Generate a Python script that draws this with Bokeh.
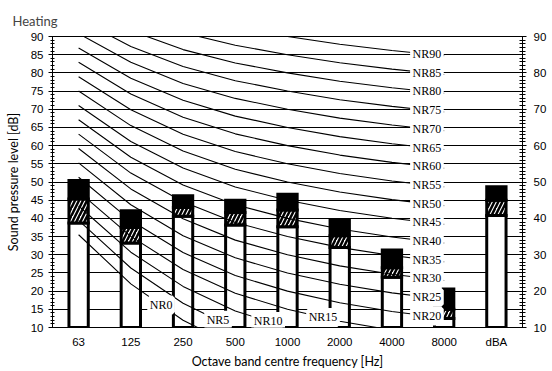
from bokeh.plotting import figure
from bokeh.models import (Range1d, LinearAxis, SingleIntervalTicker, FixedTicker,
                          ColumnDataSource, LabelSet)
from bokeh.embed import file_html
from bokeh.resources import INLINE

# ---- data ----
categories = ["63", "125", "250", "500", "1000", "2000", "4000", "8000", "dBA"]
white_top = [38.7, 33.2, 40.6, 38.2, 37.7, 32.0, 23.8, 12.5, 40.8]
hatch_top = [45.3, 37.5, 43.0, 41.6, 42.3, 35.2, 26.4, 15.0, 45.0]
bar_top = [50.4, 42.1, 46.2, 45.0, 46.6, 39.5, 31.3, 20.6, 48.7]

nr_names = ["NR0", "NR5", "NR10", "NR15", "NR20", "NR25", "NR30", "NR35", "NR40",
            "NR45", "NR50", "NR55", "NR60", "NR65", "NR70", "NR75", "NR80", "NR85", "NR90"]
# NR curve levels at 63 ... 8000 Hz
nr_curves = [
    [35.5, 22.0, 12.0, 4.8, 0.0, -3.5, -6.1, -8.0],
    [39.45, 26.35, 16.65, 9.67, 5.0, 1.58, -0.98, -2.85],
    [43.4, 30.7, 21.3, 14.54, 10.0, 6.65, 4.15, 2.3],
    [47.35, 35.05, 25.95, 19.41, 15.0, 11.73, 9.28, 7.45],
    [51.3, 39.4, 30.6, 24.28, 20.0, 16.8, 14.4, 12.6],
    [55.25, 43.75, 35.25, 29.15, 25.0, 21.88, 19.53, 17.75],
    [59.2, 48.1, 39.9, 34.02, 30.0, 26.95, 24.65, 22.9],
    [63.15, 52.45, 44.55, 38.89, 35.0, 32.03, 29.78, 28.05],
    [67.1, 56.8, 49.2, 43.76, 40.0, 37.1, 34.9, 33.2],
    [71.05, 61.15, 53.85, 48.63, 45.0, 42.18, 40.03, 38.35],
    [75.0, 65.5, 58.5, 53.5, 50.0, 47.25, 45.15, 43.5],
    [78.95, 69.85, 63.15, 58.37, 55.0, 52.33, 50.28, 48.65],
    [82.9, 74.2, 67.8, 63.24, 60.0, 57.4, 55.4, 53.8],
    [86.85, 78.55, 72.45, 68.11, 65.0, 62.48, 60.53, 58.95],
    [90.8, 82.9, 77.1, 72.98, 70.0, 67.55, 65.65, 64.1],
    [94.75, 87.25, 81.75, 77.85, 75.0, 72.63, 70.78, 69.25],
    [98.7, 91.6, 86.4, 82.72, 80.0, 77.7, 75.9, 74.4],
    [102.65, 95.95, 91.05, 87.59, 85.0, 82.78, 81.03, 79.55],
    [106.6, 100.3, 95.7, 92.46, 90.0, 87.85, 86.15, 84.7],
]
# label anchor position along the band axis (category units)
nr_label_pos = [2.08, 3.17, 4.13, 5.18] + [7.17] * 15

# ---- figure ----
p = figure(width=552, height=371, x_range=Range1d(0, 9), y_range=Range1d(10, 90),
           output_backend="svg", toolbar_location=None,
           min_border_left=52, min_border_right=30, min_border_top=36, min_border_bottom=42)
p.background_fill_color = "white"
p.border_fill_color = "white"
p.outline_line_color = "black"
p.outline_line_width = 1

centers = [i + 0.5 for i in range(len(categories))]

# x axis
xa = p.xaxis[0]
xa.ticker = FixedTicker(ticks=centers)
xa.major_label_overrides = {c: lab for c, lab in zip(centers, categories)}
xa.major_tick_line_color = None
xa.major_tick_in = 0
xa.major_tick_out = 0
xa.minor_tick_line_color = None
xa.minor_tick_in = 0
xa.minor_tick_out = 0
xa.axis_line_color = "black"
xa.major_label_standoff = 8
xa.major_label_text_font = "Liberation Sans"
xa.major_label_text_font_size = "11.5px"
xa.major_label_text_color = "black"
xa.axis_label = "Octave band centre frequency [Hz]"
xa.axis_label_text_font = "Lato"
xa.axis_label_text_font_size = "12.5px"
xa.axis_label_text_font_style = "normal"
xa.axis_label_text_color = "black"
xa.axis_label_standoff = 3

# left y axis
ya = p.yaxis[0]
ya.ticker = SingleIntervalTicker(interval=5, num_minor_ticks=5)
ya.axis_line_color = "black"
ya.major_tick_line_color = "black"
ya.minor_tick_line_color = "black"
ya.major_tick_in = 0
ya.major_tick_out = 4
ya.minor_tick_in = 2
ya.minor_tick_out = 2
ya.major_label_standoff = 5
ya.major_label_text_font = "Liberation Sans"
ya.major_label_text_font_size = "11.5px"
ya.major_label_text_color = "black"
ya.axis_label = "Sound pressure level [dB]"
ya.axis_label_text_font = "Lato"
ya.axis_label_text_font_size = "12.5px"
ya.axis_label_text_font_style = "normal"
ya.axis_label_text_color = "black"
ya.axis_label_standoff = 7

# right y axis
ra = LinearAxis(ticker=SingleIntervalTicker(interval=10, num_minor_ticks=10))
ra.axis_line_color = "black"
ra.major_tick_line_color = "black"
ra.minor_tick_line_color = "black"
ra.major_tick_in = 3
ra.major_tick_out = 4
ra.minor_tick_in = 3
ra.minor_tick_out = 3
ra.major_label_standoff = 7
ra.major_label_text_font = "Liberation Sans"
ra.major_label_text_font_size = "11.5px"
ra.major_label_text_color = "black"
p.add_layout(ra, "right")

p.xgrid.visible = False
p.ygrid.ticker = SingleIntervalTicker(interval=5)
p.ygrid.grid_line_color = "black"
p.ygrid.grid_line_width = 1
p.ygrid.grid_line_alpha = 1

# bars
bw = 0.37
p.vbar(x=centers, bottom=10, top=white_top, width=bw, fill_color="white",
       line_color="black", line_width=3, line_join="miter")
p.vbar(x=centers, bottom=white_top, top=hatch_top, width=bw, fill_color="white",
       hatch_pattern="/", hatch_color="black", hatch_scale=8, hatch_weight=2.5,
       line_color="black", line_width=3, line_join="miter")
p.vbar(x=centers, bottom=hatch_top, top=bar_top, width=bw, fill_color="black",
       line_color="black", line_width=3, line_join="miter")

# NR curves (drawn over bars)
curve_x = centers[:8]
p.multi_line(xs=[curve_x] * len(nr_curves), ys=nr_curves, line_color="black", line_width=1.1)

# labels placed on the curves
lx, ly = [], []
for pos, curve in zip(nr_label_pos, nr_curves):
    j = int(pos - 0.5)
    f = (pos - curve_x[j]) / (curve_x[j + 1] - curve_x[j])
    lx.append(pos)
    ly.append(curve[j] + f * (curve[j + 1] - curve[j]))
src = ColumnDataSource(dict(x=lx, y=ly, t=nr_names))
labels = LabelSet(x="x", y="y", text="t", source=src, text_align="center",
                  text_baseline="middle", text_font="Liberation Sans",
                  text_font_size="12px", text_color="black",
                  background_fill_color="white",
                  border_line_color="white", border_line_width=5)
p.add_layout(labels)

# title
p.title.text = "Heating"
p.title.text_font = "Lato"
p.title.text_font_size = "13px"
p.title.text_font_style = "normal"
p.title.align = "left"
p.title.offset = -40
p.title.standoff = 15

open("out.html", "w").write(file_html(p, INLINE))
